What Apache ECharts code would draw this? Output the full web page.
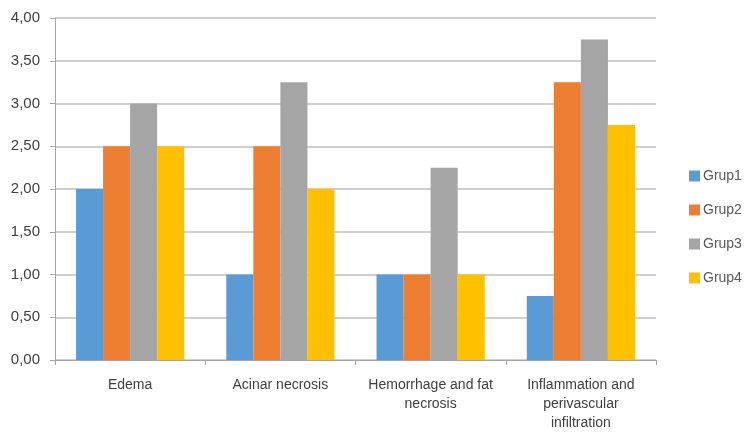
<!DOCTYPE html>
<html>
<head>
<meta charset="utf-8">
<script src="https://cdn.jsdelivr.net/npm/echarts@6/dist/echarts.min.js"></script>
<style>
  html, body { margin: 0; padding: 0; background: #fff; }
  #chart { width: 747px; height: 434px; }
</style>
</head>
<body>
<div id="chart"></div>
<script>
// Histopathology scores by group
const categories = [
  'Edema',
  'Acinar necrosis',
  'Hemorrhage and fat\nnecrosis',
  'Inflammation and\nperivascular\ninfiltration'
];
const seriesNames = ['Grup1', 'Grup2', 'Grup3', 'Grup4'];
const grup1 = [2.00, 1.00, 1.00, 0.75];
const grup2 = [2.50, 2.50, 1.00, 3.25];
const grup3 = [3.00, 3.25, 2.25, 3.75];
const grup4 = [2.50, 2.00, 1.00, 2.75];
const yMin = 0, yMax = 4, yStep = 0.5;

const colors = ['#5B9BD5', '#ED7D31', '#A5A5A5', '#FFC000'];
const values = [grup1, grup2, grup3, grup4];
const font = 'Liberation Sans';

const chart = echarts.init(document.getElementById('chart'), null, { renderer: 'canvas' });
chart.setOption({
  animation: false,
  color: colors,
  textStyle: { fontFamily: font },
  grid: { left: 55, right: 91, top: 18, bottom: 74, containLabel: false },
  legend: {
    orient: 'vertical',
    left: 684,
    top: 164,
    itemWidth: 11,
    itemHeight: 11,
    itemGap: 20,
    icon: 'rect',
    textStyle: { fontFamily: font, fontSize: 14, color: '#595959', padding: [0, 0, 0, -2] },
    data: seriesNames
  },
  xAxis: {
    type: 'category',
    data: categories,
    axisLine: { lineStyle: { color: '#a6a6a6', width: 1 } },
    axisTick: { show: true, interval: 0, length: 5, lineStyle: { color: '#a6a6a6' } },
    axisLabel: { interval: 0, fontFamily: font, fontSize: 14, color: '#404040', margin: 16, lineHeight: 19 }
  },
  yAxis: {
    type: 'value',
    min: yMin,
    max: yMax,
    interval: yStep,
    axisLine: { show: true, lineStyle: { color: '#a6a6a6' } },
    axisTick: { show: true, length: 5, lineStyle: { color: '#a6a6a6' } },
    splitLine: { lineStyle: { color: '#bfbfbf', width: 1.5 } },
    axisLabel: {
      fontFamily: font, fontSize: 15, color: '#404040', margin: 15,
      formatter: v => v.toFixed(2).replace('.', ',')
    }
  },
  series: seriesNames.map((name, i) => ({
    name,
    type: 'bar',
    data: values[i],
    barGap: '0%',
    barCategoryGap: '28%',
    itemStyle: { color: colors[i] }
  }))
});
</script>
</body>
</html>
